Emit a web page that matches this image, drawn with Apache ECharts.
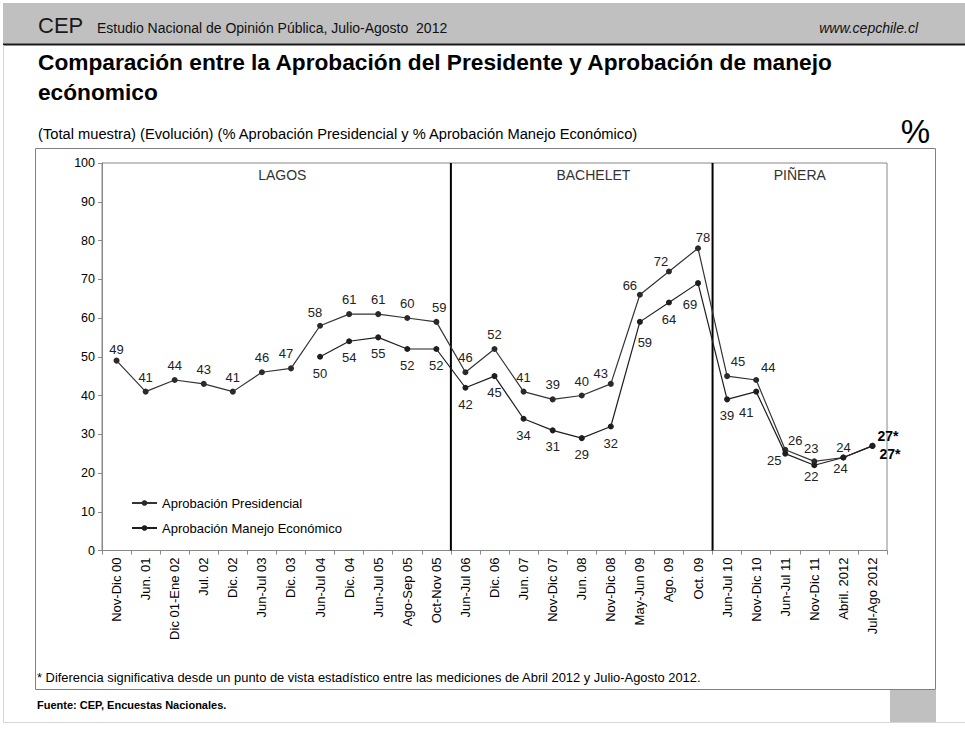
<!DOCTYPE html>
<html>
<head>
<meta charset="utf-8">
<script src="https://cdn.jsdelivr.net/npm/echarts@6/dist/echarts.min.js"></script>
<style>
html,body{margin:0;padding:0;background:#ffffff;}
#c{width:965px;height:729px;}
</style>
</head>
<body>
<div id="c"></div>
<script>
// ---------- DATA ----------
const categories = [
  'Nov-Dic 00','Jun. 01','Dic 01-Ene 02','Jul. 02','Dic. 02','Jun-Jul 03','Dic. 03',
  'Jun-Jul 04','Dic. 04','Jun-Jul 05','Ago-Sep 05','Oct-Nov 05',
  'Jun-Jul 06','Dic. 06','Jun. 07','Nov-Dic 07','Jun. 08','Nov-Dic 08','May-Jun 09','Ago. 09','Oct. 09',
  'Jun-Jul 10','Nov-Dic 10','Jun-Jul 11','Nov-Dic 11','Abril. 2012','Jul-Ago 2012'
];
const presidential = [49,41,44,43,41,46,47,58,61,61,60,59,46,52,41,39,40,43,66,72,78,45,44,26,23,24,27];
const economic = [null,null,null,null,null,null,null,50,54,55,52,52,42,45,34,31,29,32,59,64,69,39,41,25,22,24,27];
const seriesNames = ['Aprobación Presidencial','Aprobación Manejo Económico'];
const yMin = 0, yMax = 100, yStep = 10;
const eraBounds = [12, 21];
const eraNames = ['LAGOS','BACHELET','PIÑERA'];
const eraLabelX = [6.2, 16.9, 24.0];
const eraLabelY = 97;

// ---------- LABEL TWEAKS (styling only) ----------
const FONT = "'Liberation Sans', Arial, sans-serif";
const lastLabel = {position:'right', fontWeight:'bold', fontSize:14, color:'#000', formatter:'{c}*'};
const presTweaks = {
  0:{offset:[0,3]}, 6:{offset:[-5,0]}, 7:{offset:[-5,1]}, 11:{offset:[3,0]},
  17:{offset:[-10,4]}, 18:{offset:[-10,5]}, 19:{offset:[-8,4]}, 20:{offset:[5,4]},
  21:{offset:[11,0]}, 22:{offset:[12,2]}, 23:{offset:[10,5]}, 24:{offset:[-3,2]}, 25:{offset:[0,4]},
  26:Object.assign({offset:[-3,-10]}, lastLabel)
};
const ecoTweaks = {
  18:{offset:[5,4]}, 20:{offset:[-8,5]}, 22:{offset:[-10,4]}, 23:{offset:[-11,-10]},
  24:{offset:[-3,-5]}, 25:{offset:[-3,-6]},
  26:Object.assign({offset:[-3,8]}, lastLabel)
};
function buildData(values, tweaks){
  return values.map((v,i)=>{
    if (v === null) return '-';
    return tweaks[i] ? {value:v, label:tweaks[i]} : v;
  });
}

const chart = echarts.init(document.getElementById('c'), null, {renderer:'svg'});

const option = {
  animation:false,
  backgroundColor:'#ffffff',
  textStyle:{fontFamily:FONT},
  graphic:[
    // header band
    {type:'rect', shape:{x:3,y:3,width:962,height:41}, style:{fill:'#c0c0c0'}, silent:true},
    {type:'line', shape:{x1:3,y1:44.5,x2:965,y2:44.5}, style:{stroke:'#1a1a1a',lineWidth:2}, silent:true},
    // page edges
    {type:'line', shape:{x1:3.5,y1:45,x2:3.5,y2:722}, style:{stroke:'#d6d6d6',lineWidth:1}, silent:true},
    {type:'line', shape:{x1:3,y1:722.5,x2:965,y2:722.5}, style:{stroke:'#d6d6d6',lineWidth:1}, silent:true},
    // chart frame
    {type:'rect', shape:{x:35.5,y:148.5,width:900,height:541}, style:{fill:'none',stroke:'#808080',lineWidth:1}, silent:true},
    // bottom right box
    {type:'rect', shape:{x:890,y:690,width:46,height:32}, style:{fill:'#c0c0c0'}, silent:true},
    // header texts
    {type:'text', style:{text:'CEP', x:38, y:25, font:"22px "+FONT, fill:'#1a1a1a', textVerticalAlign:'middle'}, silent:true},
    {type:'text', style:{text:'Estudio Nacional de Opinión Pública, Julio-Agosto  2012', x:97, y:28, font:"14px "+FONT, fill:'#111', textVerticalAlign:'middle'}, silent:true},
    {type:'text', style:{text:'www.cepchile.cl', x:918, y:28, font:"italic 14px "+FONT, fill:'#111', textAlign:'right', textVerticalAlign:'middle'}, silent:true},
    // title
    {type:'text', style:{text:'Comparación entre la Aprobación del Presidente y Aprobación de manejo', x:38, y:62, font:"bold 22.7px "+FONT, fill:'#000', textVerticalAlign:'middle'}, silent:true},
    {type:'text', style:{text:'ecónomico', x:38, y:92, font:"bold 22.7px "+FONT, fill:'#000', textVerticalAlign:'middle'}, silent:true},
    {type:'text', style:{text:'(Total muestra) (Evolución) (% Aprobación Presidencial y % Aprobación Manejo Económico)', x:38, y:134, font:"14.7px "+FONT, fill:'#000', textVerticalAlign:'middle'}, silent:true},
    {type:'text', style:{text:'%', x:930, y:131, font:"33px "+FONT, fill:'#000', textAlign:'right', textVerticalAlign:'middle'}, silent:true},
    // footnotes
    {type:'text', style:{text:'* Diferencia significativa desde un punto de vista estadístico entre las mediciones de Abril 2012 y Julio-Agosto 2012.', x:37, y:677, font:"12.9px "+FONT, fill:'#000', textVerticalAlign:'middle'}, silent:true},
    {type:'text', style:{text:'Fuente: CEP, Encuestas Nacionales.', x:37, y:705, font:"bold 11px "+FONT, fill:'#000', textVerticalAlign:'middle'}, silent:true}
  ],
  grid:{left:102, top:163, width:785, height:387.5, show:true, borderColor:'#888', borderWidth:1, backgroundColor:'transparent', containLabel:false},
  legend:{
    orient:'vertical', left:126, top:491, itemWidth:25, itemHeight:7, itemGap:11,
    textStyle:{fontSize:13, color:'#000', fontFamily:FONT, lineHeight:14},
    data:seriesNames
  },
  xAxis:[
    {type:'category', data:categories, boundaryGap:true,
     axisLine:{lineStyle:{color:'#888'}},
     axisTick:{show:true, length:4, lineStyle:{color:'#888'}},
     axisLabel:{rotate:90, interval:0, fontSize:13, color:'#000', margin:7, fontFamily:FONT}},
    {type:'value', min:0, max:categories.length, show:false}
  ],
  yAxis:{type:'value', min:yMin, max:yMax, interval:yStep,
    axisLine:{show:true, lineStyle:{color:'#888'}},
    axisTick:{show:true, length:4, lineStyle:{color:'#888'}},
    splitLine:{show:false},
    axisLabel:{fontSize:12.5, color:'#000', margin:7, fontFamily:FONT}},
  series:[
    {name:seriesNames[0], type:'line', data:buildData(presidential, presTweaks),
     symbol:'circle', symbolSize:6, color:'#3a3a3a',
     lineStyle:{width:1.2, color:'#333'}, itemStyle:{color:'#2a2a2a'},
     label:{show:true, position:'top', distance:5, fontSize:13, color:'#222', fontFamily:FONT},
     z:3},
    {name:seriesNames[1], type:'line', data:buildData(economic, ecoTweaks),
     symbol:'circle', symbolSize:6, color:'#111',
     lineStyle:{width:1.2, color:'#1e1e1e'}, itemStyle:{color:'#1e1e1e'},
     label:{show:true, position:'bottom', distance:7, fontSize:13, color:'#222', fontFamily:FONT},
     z:4},
    {name:'eras', type:'custom', xAxisIndex:1, yAxisIndex:0, data:eraBounds, silent:true, z:2,
     renderItem:function(params, api){
       const x = api.value(0);
       const p0 = api.coord([x, yMin]);
       const p1 = api.coord([x, yMax]);
       return {type:'line', shape:{x1:p0[0], y1:p0[1], x2:p1[0], y2:p1[1]}, style:{stroke:'#000', lineWidth:2}};
     }},
    {name:'eraNames', type:'custom', xAxisIndex:1, yAxisIndex:0,
     data:eraLabelX.map((x,i)=>[x, eraLabelY, eraNames[i]]), silent:true, z:2,
     renderItem:function(params, api){
       const p = api.coord([api.value(0), api.value(1)]);
       return {type:'text', style:{text:eraNames[params.dataIndex], x:p[0], y:p[1], font:"14px "+FONT, fill:'#333', textAlign:'center', textVerticalAlign:'middle'}};
     }}
  ]
};
chart.setOption(option);
</script>
</body>
</html>
